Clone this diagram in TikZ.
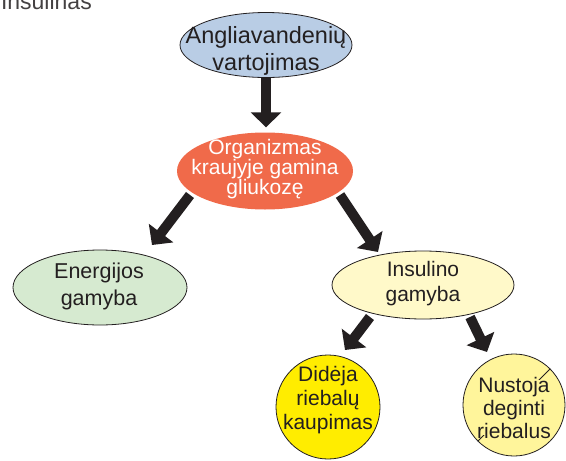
\documentclass[tikz,border=0pt]{standalone}
\usepackage{fontspec}
\setmainfont{Liberation Sans}
\usetikzlibrary{shapes.geometric,arrows.meta,backgrounds,calc}
\definecolor{cblue}{HTML}{B9CDE5}
\definecolor{corange}{HTML}{F06A4A}
\definecolor{cgreen}{HTML}{D6EAD0}
\definecolor{cins}{HTML}{FFF9C9}
\definecolor{cdid}{HTML}{FFED00}
\definecolor{cnus}{HTML}{FFF59B}
\definecolor{ctext}{HTML}{231F20}
\definecolor{cline}{HTML}{231F20}
\tikzset{
  bub/.style={ellipse, draw=cline, line width=0.8pt, inner sep=0pt},
  lbl/.style={align=center, inner sep=0pt, text=ctext, font=\fontsize{21}{24}\selectfont},
  arr/.style={draw=cline, line width=10pt, -{Triangle[length=15pt,width=30pt]}},
}
\begin{document}
\begin{tikzpicture}[x=1pt,y=-1pt]
\useasboundingbox (0,0) rectangle (566,461);
% title fragment
\node[anchor=base east, inner sep=0pt, text=ctext!85, font=\fontsize{23}{26}\selectfont] (ttl) at (92,9.5) {Insulinas};
% shapes
\node[bub, fill=cblue, minimum width=172pt, minimum height=65pt] (ang) at (266,45) {};
\node[ellipse, fill=corange, inner sep=0pt, minimum width=176pt, minimum height=77pt] (org) at (265,171) {};
\node[bub, fill=cgreen, minimum width=174pt, minimum height=75pt] (en) at (100,287.5) {};
\node[bub, fill=cins, minimum width=182pt, minimum height=68pt] (ins) at (423,285) {};
\node[bub, circle, fill=cdid, minimum size=104pt] (did) at (328,407) {};
\node[bub, circle, fill=cnus, minimum size=102pt] (nus) at (514,405) {};
\draw[cline, line width=0.8pt] (nus.45) -- (nus.225);
% texts
\node[lbl, font=\fontsize{23.5}{27}\selectfont] (tang) at (266,50.5) {Angliavandenių\\vartojimas};
\node[lbl, text=white, font=\fontsize{21}{20}\selectfont] (torg) at (265,169.5) {Organizmas\\kraujyje gamina\\gliukozę};
\node[lbl, font=\fontsize{21.5}{27}\selectfont] (ten) at (99,286) {Energijos\\gamyba};
\node[lbl, font=\fontsize{21}{25}\selectfont] (tins) at (423,284) {Insulino\\gamyba};
\node[lbl, font=\fontsize{21}{24}\selectfont] (tdid) at (328,400.5) {Didėja\\riebalų\\kaupimas};
\node[lbl, fill=cnus, inner xsep=-1.5pt, inner ysep=-3pt, font=\fontsize{21}{23}\selectfont] (tnus) at (514,407.7) {Nustoja\\deginti\\riebalus};
% arrows
\begin{scope}[on background layer]
\draw[arr] (ang.south) -- ($(ang.south |- org.north)+(0,-5)$);
\draw[arr] ($(org.center)+(-75,24)$) -- ($(en.center)+(52,-42.5)$);
\draw[arr] ($(org.center)+(75,24)$) -- ($(ins.center)+(-45,-33)$);
\draw[arr] ($(ins.center)+(-53,32)$) -- ($(did.center)+(17,-57)$);
\draw[arr] ($(ins.center)+(47,32)$) -- ($(nus.center)+(-27,-53)$);
\end{scope}
\end{tikzpicture}
\end{document}
